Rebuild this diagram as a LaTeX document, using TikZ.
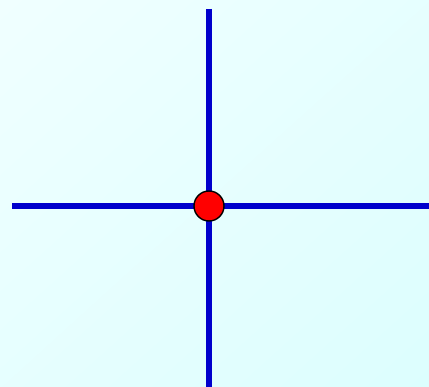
\documentclass[tikz,border=0pt]{standalone}
\usepackage{tikz}
\usetikzlibrary{positioning,calc,shadings}
\usepackage{xcolor}
\definecolor{bgtop}{RGB}{240,255,255}
\definecolor{bgbot}{RGB}{220,254,254}
\definecolor{axisblue}{RGB}{0,0,204}
\begin{document}
\begin{tikzpicture}[x=1pt,y=-1pt]
\shade[upper left=bgtop,upper right=bgtop!50!bgbot,lower left=bgtop!50!bgbot,lower right=bgbot] (0,0) rectangle (429,387);
\useasboundingbox (0,0) rectangle (429,387);
\coordinate (top) at (209,9);
\coordinate (bot) at (209,387);
\coordinate (left) at (12,206);
\coordinate (right) at (429,206);
\draw[axisblue,line width=5.5pt] (top) -- (bot);
\draw[axisblue,line width=5.5pt] (left) -- (right);
\node[circle,draw=black,fill=red,line width=1.4pt,minimum size=30pt,inner sep=0pt] (pt) at (209,206) {};
\end{tikzpicture}
\end{document}
